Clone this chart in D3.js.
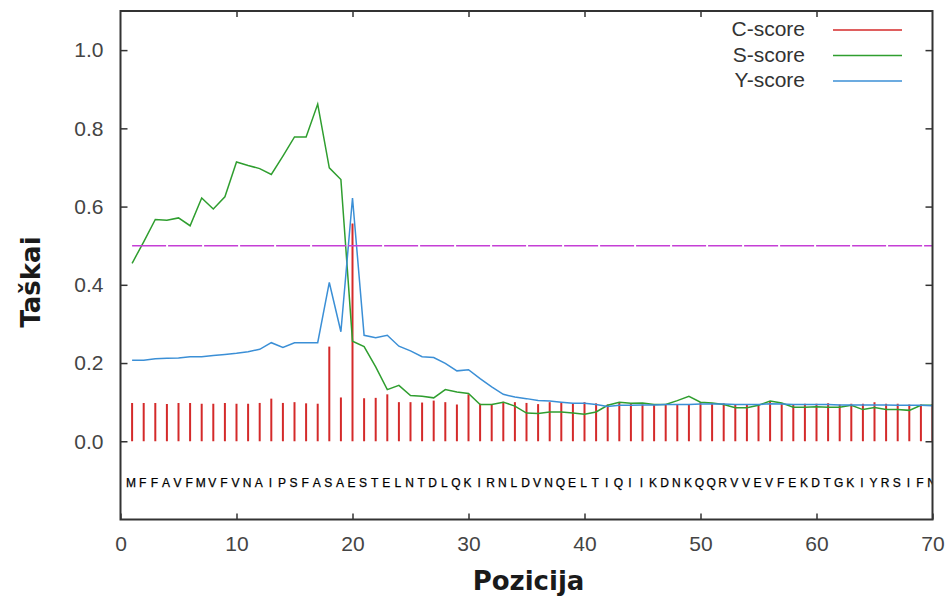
<!DOCTYPE html>
<html>
<head>
<meta charset="utf-8">
<script src="https://cdn.jsdelivr.net/npm/d3@7/dist/d3.min.js"></script>
<style>
  body { margin: 0; background: #fff; }
  svg { display: block; }
</style>
</head>
<body>
<div id="chart"></div>
<script>
const SVG_W = 946;
const SVG_H = 596;
const LEFT = 120.5;
const RIGHT = 932.5;
const TOP = 11;
const BOTTOM = 519.5;

// sequence, one letter per position 1..70
var sequence = "MFFAVFMVFVNAIPSFASAESTELNTDLQKIRNLDVNQELTIQIIKDNKQQRVVEVFEKDTGKIYRSIFN".split("");

var cScore = [0.098, 0.098, 0.098, 0.095, 0.098, 0.098, 0.096, 0.096, 0.098, 0.096,
  0.096, 0.098, 0.109, 0.098, 0.100, 0.097, 0.096, 0.242, 0.112, 0.557,
  0.110, 0.111, 0.120, 0.100, 0.100, 0.099, 0.104, 0.100, 0.094, 0.120,
  0.096, 0.095, 0.101, 0.100, 0.098, 0.095, 0.100, 0.100, 0.096, 0.100,
  0.097, 0.094, 0.100, 0.097, 0.094, 0.094, 0.094, 0.094, 0.094, 0.100,
  0.097, 0.097, 0.094, 0.094, 0.094, 0.102, 0.097, 0.094, 0.096, 0.096,
  0.097, 0.094, 0.096, 0.096, 0.100, 0.096, 0.096, 0.094, 0.094, 0.095];

var sScore = [0.455, 0.510, 0.567, 0.565, 0.571, 0.551, 0.622, 0.594, 0.625, 0.714,
  0.705, 0.697, 0.682, 0.729, 0.778, 0.778, 0.862, 0.699, 0.669, 0.256,
  0.242, 0.190, 0.132, 0.143, 0.117, 0.115, 0.111, 0.132, 0.126, 0.122,
  0.094, 0.094, 0.100, 0.090, 0.072, 0.071, 0.075, 0.075, 0.072, 0.069,
  0.075, 0.092, 0.100, 0.097, 0.098, 0.094, 0.094, 0.104, 0.115, 0.100,
  0.098, 0.094, 0.086, 0.086, 0.092, 0.103, 0.098, 0.087, 0.087, 0.088,
  0.087, 0.087, 0.092, 0.081, 0.086, 0.081, 0.081, 0.079, 0.092, 0.092];

var yScore = [0.207, 0.207, 0.211, 0.212, 0.213, 0.216, 0.216, 0.219, 0.222, 0.225,
  0.229, 0.235, 0.252, 0.240, 0.252, 0.252, 0.252, 0.406, 0.280, 0.622,
  0.271, 0.265, 0.271, 0.243, 0.231, 0.216, 0.214, 0.199, 0.180, 0.183,
  0.160, 0.139, 0.120, 0.113, 0.109, 0.104, 0.103, 0.100, 0.097, 0.097,
  0.094, 0.089, 0.092, 0.092, 0.093, 0.093, 0.094, 0.094, 0.094, 0.095,
  0.095, 0.095, 0.094, 0.094, 0.094, 0.096, 0.095, 0.094, 0.094, 0.094,
  0.094, 0.093, 0.093, 0.093, 0.093, 0.093, 0.092, 0.092, 0.092, 0.091];

var threshold = 0.5;

var xTicks = [0, 10, 20, 30, 40, 50, 60, 70];
var yTicks = [0.0, 0.2, 0.4, 0.6, 0.8, 1.0];

var legendNames = ["C-score", "S-score", "Y-score"];
var legendColors = ["#d42a2a", "#2f9e2f", "#3b8fd6"];

var positions = sequence.map((d, i) => i + 1);

var x = d3.scaleLinear().domain([0, 70]).range([LEFT, RIGHT]);
var y = d3.scaleLinear().domain([-0.2, 1.1]).range([BOTTOM, TOP]);

var svg = d3.select("#chart").append("svg")
  .attr("width", SVG_W)
  .attr("height", SVG_H)

svg.append("clipPath")
  .attr("id", "plotclip")
  .append("rect")
  .attr("x", LEFT)
  .attr("y", TOP)
  .attr("width", RIGHT - LEFT)
  .attr("height", BOTTOM - TOP)

var plot = svg.append("g").attr("clip-path", "url(#plotclip)")

// C-score impulses
plot.selectAll("line.c-bar")
  .data(cScore)
  .enter()
  .append("line")
  .attr("class", "c-bar")
  .attr("x1", (d, i) => x(positions[i]))
  .attr("x2", (d, i) => x(positions[i]))
  .attr("y1", y(0))
  .attr("y2", d => y(d))
  .attr("stroke", legendColors[0])
  .attr("stroke-width", 2)

var line = d3.line()
  .x((d, i) => x(positions[i]))
  .y(d => y(d))

plot.append("path")
  .datum(sScore)
  .attr("d", line)
  .attr("fill", "none")
  .attr("stroke", legendColors[1])
  .attr("stroke-width", 1.5)

plot.append("path")
  .datum(yScore)
  .attr("d", line)
  .attr("fill", "none")
  .attr("stroke", legendColors[2])
  .attr("stroke-width", 1.5)

plot.append("line")
  .attr("x1", x(positions[0]))
  .attr("x2", x(positions[positions.length - 1]))
  .attr("y1", y(threshold))
  .attr("y2", y(threshold))
  .attr("stroke", "#c53fd6")
  .attr("stroke-width", 1.6)
  .attr("stroke-dasharray", "34,2")

// residues under the plot
plot.selectAll("text.aa")
  .data(sequence)
  .enter()
  .append("text")
  .attr("class", "aa")
  .text(d => d)
  .attr("x", (d, i) => x(positions[i]) - 1)
  .attr("y", 487)
  .attr("text-anchor", "middle")
  .attr("font-family", "Liberation Sans, Arial, sans-serif")
  .attr("font-size", 12)
  .attr("stroke", "#000")
  .attr("stroke-width", 0.25)
  .attr("fill", "#000")

// axes: ticks point inward on all four sides
var styleAxis = (g) => {
  g.select(".domain").remove();
  g.selectAll(".tick line").attr("stroke", "#333").attr("stroke-width", 1.5);
  g.selectAll(".tick text")
    .attr("font-family", "Liberation Sans, Arial, sans-serif")
    .attr("font-size", 21)
    .attr("fill", "#444");
}

svg.append("g")
  .attr("transform", `translate(0,${BOTTOM})`)
  .call(d3.axisBottom(x).tickValues(xTicks).tickSize(-6).tickPadding(17).tickFormat(d3.format("d")))
  .call(styleAxis)

svg.append("g")
  .attr("transform", `translate(0,${TOP})`)
  .call(d3.axisTop(x).tickValues(xTicks.slice(1, -1)).tickSize(-6).tickFormat(""))
  .call(styleAxis)

svg.append("g")
  .attr("transform", `translate(${LEFT},0)`)
  .call(d3.axisLeft(y).tickValues(yTicks).tickSize(-7).tickPadding(17).tickFormat(d3.format(".1f")))
  .call(styleAxis)

svg.append("g")
  .attr("transform", `translate(${RIGHT},0)`)
  .call(d3.axisRight(y).tickValues(yTicks).tickSize(-7).tickFormat(""))
  .call(styleAxis)

svg.append("rect")
  .attr("x", LEFT)
  .attr("y", TOP)
  .attr("width", RIGHT - LEFT)
  .attr("height", BOTTOM - TOP)
  .attr("fill", "none")
  .attr("stroke", "#333")
  .attr("stroke-width", 2)

// legend
var legend = svg.selectAll("g.legend")
  .data(legendNames)
  .enter()
  .append("g")
  .attr("class", "legend")
  .attr("transform", (d, i) => `translate(0,${36 + i * 25.5})`)

legend.append("text")
  .text(d => d)
  .attr("x", 805)
  .attr("y", 0)
  .attr("text-anchor", "end")
  .attr("font-family", "Liberation Sans, Arial, sans-serif")
  .attr("font-size", 21)
  .attr("fill", "#333")

legend.append("line")
  .attr("x1", 833)
  .attr("x2", 902)
  .attr("y1", -6)
  .attr("y2", -6)
  .attr("stroke", (d, i) => legendColors[i])
  .attr("stroke-width", 1.5)

// axis titles
svg.append("text")
  .text("Pozicija")
  .attr("x", (LEFT + RIGHT) / 2 + 2)
  .attr("y", 590)
  .attr("text-anchor", "middle")
  .attr("font-family", "DejaVu Sans, sans-serif")
  .attr("font-weight", "bold")
  .attr("font-size", 26)
  .attr("fill", "#1a1a1a")

svg.append("text")
  .text("Taškai")
  .attr("transform", "translate(40,282) rotate(-90)")
  .attr("text-anchor", "middle")
  .attr("font-family", "DejaVu Sans, sans-serif")
  .attr("font-weight", "bold")
  .attr("font-size", 26)
  .attr("fill", "#1a1a1a")
</script>
</body>
</html>
